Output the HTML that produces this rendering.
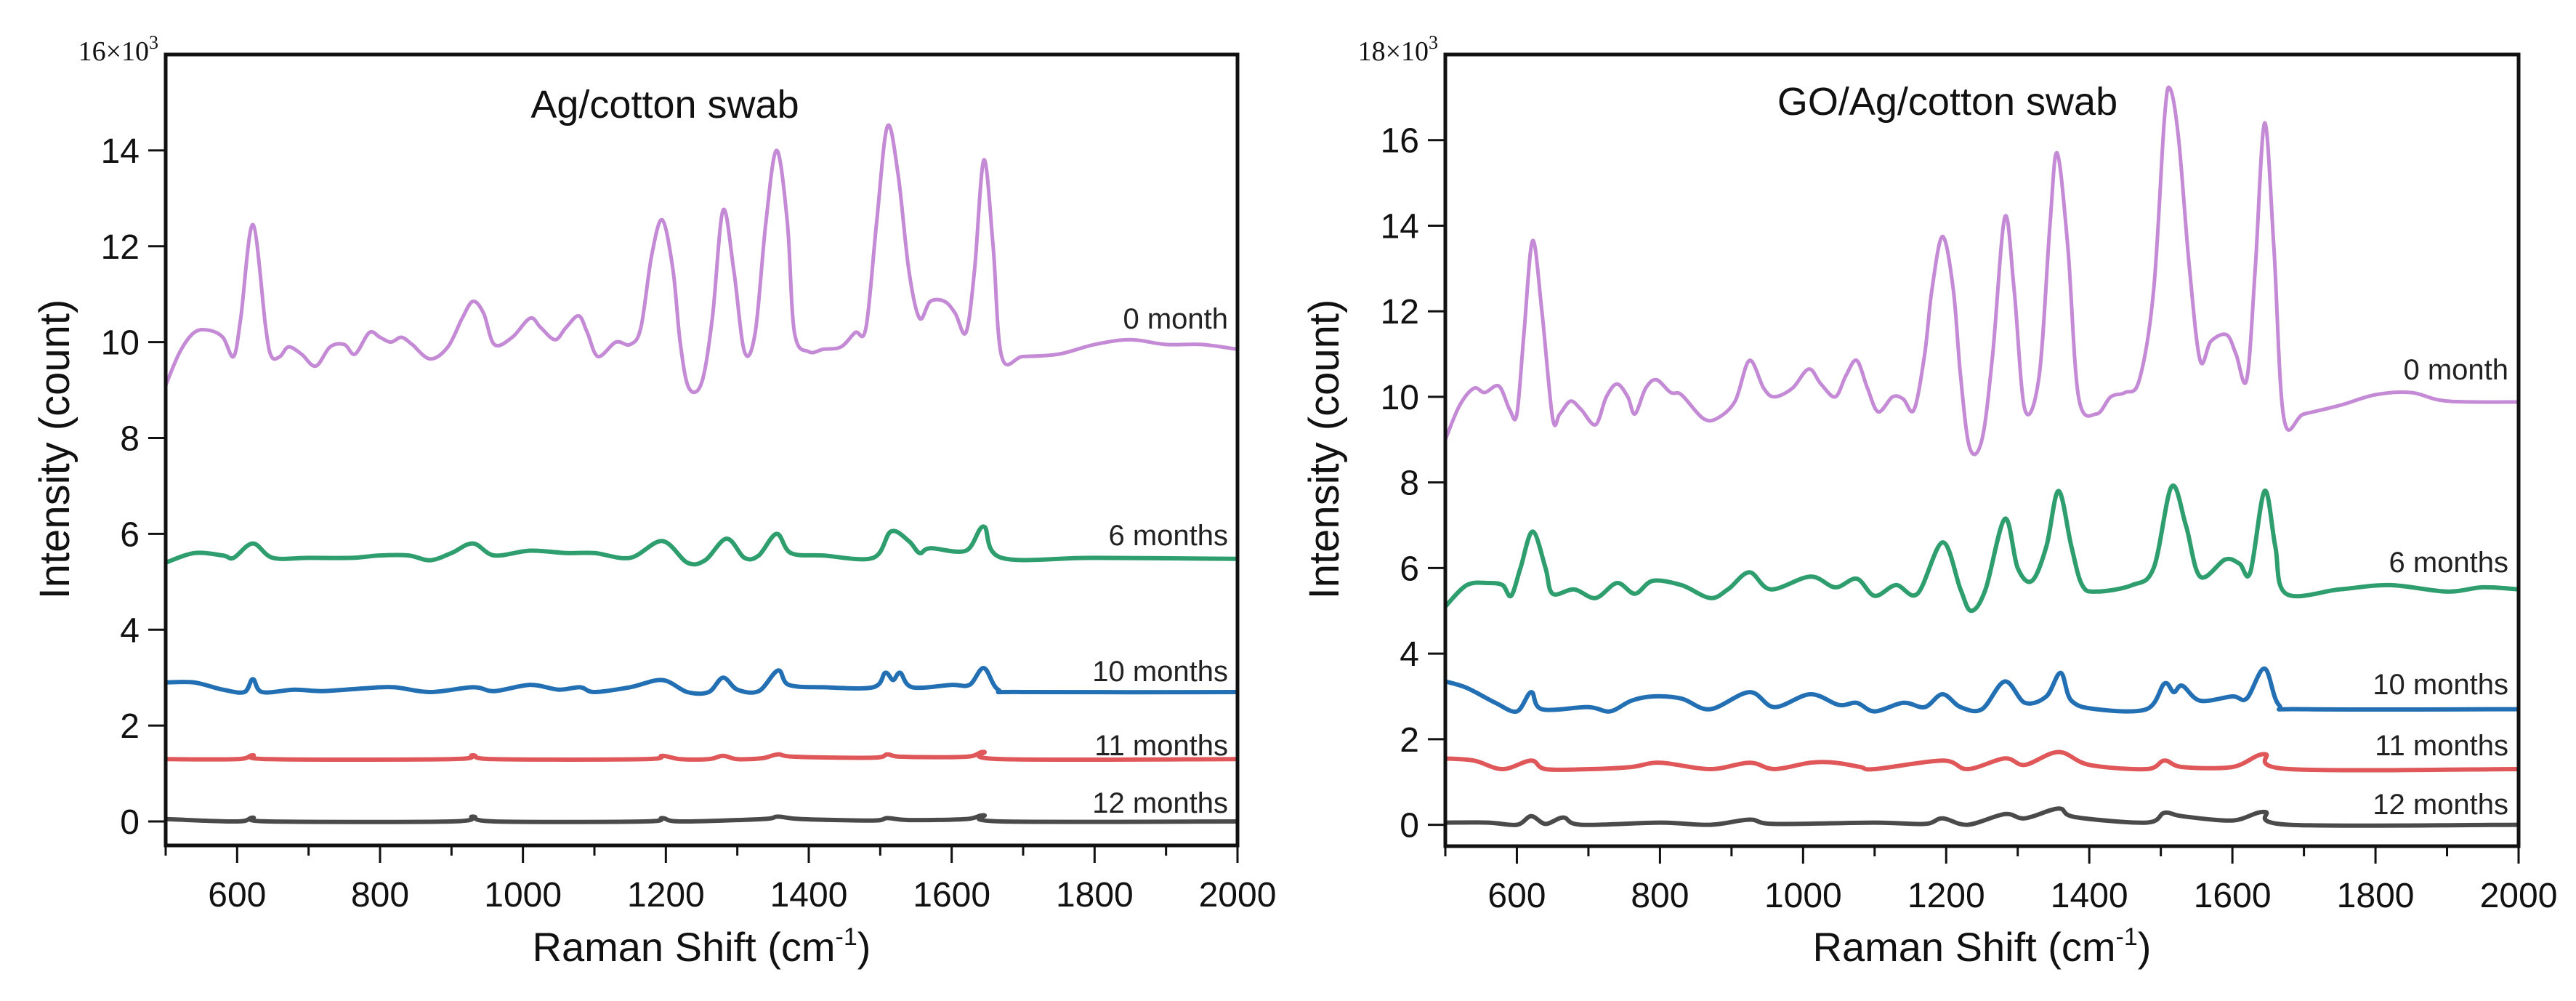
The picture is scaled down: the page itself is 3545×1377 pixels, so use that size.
<!DOCTYPE html>
<html><head><meta charset="utf-8"><style>
html,body{margin:0;padding:0;background:#fff;}
svg{display:block;font-family:"Liberation Sans",Arial,sans-serif;}
</style></head><body>
<svg id="chart" width="3545" height="1377" viewBox="0 0 3545 1377" xmlns="http://www.w3.org/2000/svg"></svg>
<script>
// ---- Data (x in cm^-1, y in 10^3 counts) ----
const xTicks = [600,800,1000,1200,1400,1600,1800,2000];
const yTicksL = [0,2,4,6,8,10,12,14];
const yTicksR = [0,2,4,6,8,10,12,14,16];
const seriesNames = ["0 month","6 months","10 months","11 months","12 months"];

const L0x=[500,520,540,560,580,595,605,622,640,648,660,672,690,710,730,750,765,785,800,815,830,845,870,895,915,930,945,960,985,1010,1025,1045,1060,1078,1090,1105,1130,1150,1165,1180,1195,1210,1220,1232,1250,1265,1280,1295,1310,1325,1340,1355,1370,1380,1400,1420,1445,1465,1480,1495,1510,1525,1540,1555,1570,1590,1605,1620,1632,1645,1658,1670,1700,1750,1800,1850,1900,1950,2000];
const L0y=[9.1,9.8,10.2,10.25,10.1,9.7,10.5,12.45,10.3,9.7,9.7,9.9,9.75,9.5,9.9,9.95,9.75,10.2,10.1,10.0,10.1,9.95,9.65,9.9,10.5,10.85,10.6,9.95,10.1,10.5,10.3,10.05,10.3,10.55,10.2,9.7,10.0,9.95,10.3,11.8,12.55,11.5,10.0,9.05,9.15,10.5,12.75,11.5,9.8,10.2,12.5,14.0,12.5,10.2,9.8,9.85,9.9,10.2,10.3,12.5,14.5,13.5,11.5,10.5,10.85,10.85,10.6,10.2,11.5,13.8,12.0,9.7,9.7,9.75,9.95,10.05,9.95,9.95,9.85];
const L6x=[500,540,580,595,622,650,700,760,800,840,870,900,930,960,1010,1060,1100,1150,1195,1230,1255,1285,1310,1330,1355,1375,1420,1490,1515,1540,1555,1570,1620,1645,1670,1800,2000];
const L6y=[5.4,5.6,5.55,5.5,5.8,5.5,5.5,5.5,5.55,5.55,5.45,5.6,5.8,5.55,5.65,5.6,5.6,5.5,5.85,5.4,5.45,5.9,5.5,5.55,6.0,5.6,5.55,5.5,6.05,5.85,5.6,5.7,5.65,6.15,5.5,5.5,5.48];
const L10x=[500,540,580,610,622,635,680,720,780,820,870,930,960,1010,1050,1080,1100,1150,1195,1230,1260,1280,1300,1330,1357,1372,1420,1490,1507,1518,1528,1545,1600,1625,1645,1665,1700,2000];
const L10y=[2.9,2.9,2.75,2.7,2.97,2.7,2.75,2.72,2.78,2.8,2.7,2.8,2.72,2.85,2.75,2.8,2.7,2.8,2.95,2.7,2.7,3.0,2.75,2.72,3.15,2.85,2.8,2.8,3.1,2.95,3.1,2.8,2.85,2.85,3.2,2.75,2.7,2.7];
const L11x=[500,600,622,645,900,930,960,1170,1195,1220,1260,1280,1300,1335,1357,1380,1490,1510,1530,1620,1645,1670,2000];
const L11y=[1.3,1.3,1.38,1.3,1.3,1.38,1.3,1.3,1.37,1.3,1.3,1.37,1.3,1.32,1.4,1.35,1.33,1.4,1.35,1.35,1.45,1.3,1.3];
const L12x=[500,600,622,645,900,930,960,1170,1195,1220,1335,1357,1390,1490,1510,1540,1620,1645,1670,2000];
const L12y=[0.05,0.0,0.08,0.0,0.0,0.1,0.0,0.0,0.07,0.0,0.05,0.1,0.05,0.02,0.07,0.03,0.05,0.13,0.0,0.0];

const R0x=[500,520,540,555,575,590,600,610,622,635,650,660,675,690,710,725,740,755,765,780,795,815,830,860,880,905,925,945,960,985,1008,1025,1045,1060,1075,1090,1105,1125,1140,1155,1170,1180,1195,1210,1220,1233,1250,1265,1282,1295,1310,1330,1345,1355,1370,1385,1410,1430,1450,1470,1490,1505,1513,1525,1540,1555,1570,1592,1605,1620,1632,1645,1658,1672,1700,1750,1800,1850,1900,2000];
const R0y=[9.0,9.8,10.2,10.1,10.25,9.7,9.6,11.5,13.65,12.0,9.5,9.6,9.9,9.7,9.35,10.0,10.3,10.0,9.6,10.2,10.4,10.1,10.05,9.5,9.5,9.9,10.85,10.2,10.0,10.2,10.65,10.3,10.0,10.5,10.85,10.2,9.65,10.0,9.95,9.7,11.0,12.5,13.75,12.5,10.5,8.8,9.0,11.0,14.2,12.5,9.7,10.5,14.0,15.7,13.5,10.0,9.6,10.0,10.1,10.4,12.5,16.5,17.2,16.0,13.0,10.85,11.3,11.45,11.0,10.4,13.0,16.4,13.5,9.5,9.6,9.8,10.05,10.1,9.9,9.88];
const R6x=[500,530,560,580,592,605,622,640,650,680,710,740,765,790,830,870,895,925,955,1010,1045,1075,1100,1130,1160,1195,1220,1235,1255,1282,1300,1320,1340,1357,1375,1390,1410,1460,1490,1515,1535,1555,1590,1610,1625,1645,1660,1675,1750,1820,1900,1950,2000];
const R6y=[5.1,5.6,5.65,5.6,5.35,6.0,6.85,6.0,5.4,5.5,5.3,5.65,5.4,5.7,5.6,5.3,5.5,5.9,5.5,5.8,5.55,5.75,5.35,5.6,5.4,6.6,5.5,5.0,5.5,7.15,6.0,5.7,6.5,7.8,6.5,5.6,5.45,5.6,6.0,7.9,7.0,5.8,6.2,6.1,5.9,7.8,6.5,5.4,5.5,5.6,5.45,5.55,5.5];
const R10x=[500,530,570,600,620,635,700,730,760,790,830,870,925,960,1010,1050,1075,1100,1140,1170,1195,1220,1250,1282,1310,1340,1360,1375,1410,1480,1505,1518,1530,1555,1600,1620,1645,1665,1700,2000];
const R10y=[3.35,3.2,2.85,2.65,3.1,2.7,2.75,2.65,2.9,3.0,2.95,2.7,3.1,2.75,3.05,2.8,2.85,2.65,2.85,2.75,3.05,2.75,2.7,3.35,2.85,3.0,3.55,2.9,2.7,2.7,3.3,3.1,3.25,2.9,3.0,2.95,3.65,2.8,2.7,2.7];
const R11x=[500,540,580,620,640,700,760,800,870,925,960,1010,1045,1080,1100,1195,1230,1282,1310,1357,1400,1480,1505,1530,1600,1645,1680,2000];
const R11y=[1.55,1.5,1.3,1.5,1.3,1.3,1.35,1.45,1.3,1.45,1.3,1.45,1.45,1.35,1.3,1.5,1.3,1.55,1.4,1.7,1.4,1.3,1.5,1.35,1.35,1.65,1.3,1.3];
const R12x=[500,560,600,620,640,665,690,800,870,925,960,1100,1170,1195,1230,1282,1310,1357,1380,1480,1505,1530,1600,1645,1680,2000];
const R12y=[0.05,0.05,0.0,0.2,0.02,0.17,0.0,0.05,0.0,0.12,0.02,0.05,0.02,0.15,0.0,0.25,0.15,0.38,0.18,0.05,0.28,0.2,0.1,0.3,0.0,0.0];

const colors=["#c48ad6","#2f9e6e","#2270b3","#e0575a","#4a4a4a"];
const NS="http://www.w3.org/2000/svg";
const svg=document.getElementById('chart');
function mk(tag,attrs,parent){const e=document.createElementNS(NS,tag);for(const k in attrs)e.setAttribute(k,attrs[k]);(parent||svg).appendChild(e);return e;}

function panel(cfg){
  const g=mk('g',{});
  
  
  const sx=v=>cfg.x0+(v-500)/(2000-500)*(cfg.x1-cfg.x0);
  const sy=v=>cfg.y1-(v-cfg.ymin)/(cfg.ymax-cfg.ymin)*(cfg.y1-cfg.y0);
  cfg.series.forEach((s,i)=>{
    const pts=s[0].map((x,j)=>[sx(x),sy(s[1][j])]);
    let d="M"+pts[0][0]+","+pts[0][1];
    for(let j=0;j<pts.length-1;j++){
      const p0=pts[Math.max(0,j-1)],p1=pts[j],p2=pts[j+1],p3=pts[Math.min(pts.length-1,j+2)];
      const c1x=p1[0]+(p2[0]-p0[0])/6,c1y=p1[1]+(p2[1]-p0[1])/6;
      const c2x=p2[0]-(p3[0]-p1[0])/6,c2y=p2[1]-(p3[1]-p1[1])/6;
      d+=" C"+c1x.toFixed(1)+","+c1y.toFixed(1)+" "+c2x.toFixed(1)+","+c2y.toFixed(1)+" "+p2[0].toFixed(1)+","+p2[1].toFixed(1);
    }
    const p=mk('path',{d:d,fill:'none',stroke:colors[i],'stroke-width':i===0?5:6,'stroke-linejoin':'round'},g);
    
    
    const t=mk('text',{x:cfg.labX,y:cfg.labY[i],'text-anchor':'end','font-size':40,fill:'#222'},g);
    t.textContent=seriesNames[i];
    
    
  });
  const f=mk('rect',{x:cfg.x0,y:cfg.y0,width:cfg.x1-cfg.x0,height:cfg.y1-cfg.y0,fill:'none',stroke:'#111','stroke-width':5},g);
  
  
  for(let v=500;v<=2000;v+=100){
    const major=v%200===0;
    const tk=mk('line',{x1:sx(v),x2:sx(v),y1:cfg.y1,y2:cfg.y1+(major?24:14),stroke:'#111','stroke-width':3},g);
    
    
  }
  xTicks.forEach(v=>{
    const t=mk('text',{x:sx(v),y:cfg.y1+84,'text-anchor':'middle','font-size':48,fill:'#111'},g);
    t.textContent=v;
    
    
  });
  cfg.yTicks.forEach(v=>{
    const tk=mk('line',{x1:cfg.x0-24,x2:cfg.x0,y1:sy(v),y2:sy(v),stroke:'#111','stroke-width':3},g);
    
    
    const t=mk('text',{x:cfg.x0-36,y:sy(v)+17,'text-anchor':'end','font-size':48,fill:'#111'},g);
    t.textContent=v;
    
    
  });
  const top=mk('text',{x:cfg.x0-10,y:cfg.y0+8,'text-anchor':'end','font-size':38,fill:'#111','font-family':'Liberation Serif, serif'},g);
  top.textContent=cfg.ymax+"×10";
  const sup=mk('tspan',{dy:-16,'font-size':26},top);
  sup.textContent="3";
  
  
  const tt=mk('text',{x:cfg.titleX,y:cfg.titleY,'text-anchor':'middle','font-size':54,fill:'#111'},g);
  tt.textContent=cfg.title;
  
  
  const xl=mk('text',{x:(cfg.x0+cfg.x1)/2,y:1322,'text-anchor':'middle','font-size':56,fill:'#111'},g);
  xl.textContent="Raman Shift (cm";
  const s2=mk('tspan',{dy:-22,'font-size':34},xl); s2.textContent="-1";
  const s3=mk('tspan',{dy:22},xl); s3.textContent=")";
  
  
  const yl=mk('text',{x:cfg.ylabX,y:618,'text-anchor':'middle','font-size':58,fill:'#111',transform:'rotate(-90 '+cfg.ylabX+' 618)'},g);
  yl.textContent="Intensity (count)";
  
  
}

panel({name:'ag-cotton-panel',x0:228,x1:1703,y0:75,y1:1163,ymin:-0.5,ymax:16,yTicks:yTicksL,
  series:[[L0x,L0y],[L6x,L6y],[L10x,L10y],[L11x,L11y],[L12x,L12y]],
  labX:1690,labY:[452,750,937,1039,1118],title:"Ag/cotton swab",titleX:915,titleY:162,ylabX:95});
panel({name:'go-ag-cotton-panel',x0:1989,x1:3466,y0:75,y1:1164,ymin:-0.5,ymax:18,yTicks:yTicksR,
  series:[[R0x,R0y],[R6x,R6y],[R10x,R10y],[R11x,R11y],[R12x,R12y]],
  labX:3452,labY:[522,787,955,1039,1120],title:"GO/Ag/cotton swab",titleX:2680,titleY:158,ylabX:1842});
</script>
</body></html>
